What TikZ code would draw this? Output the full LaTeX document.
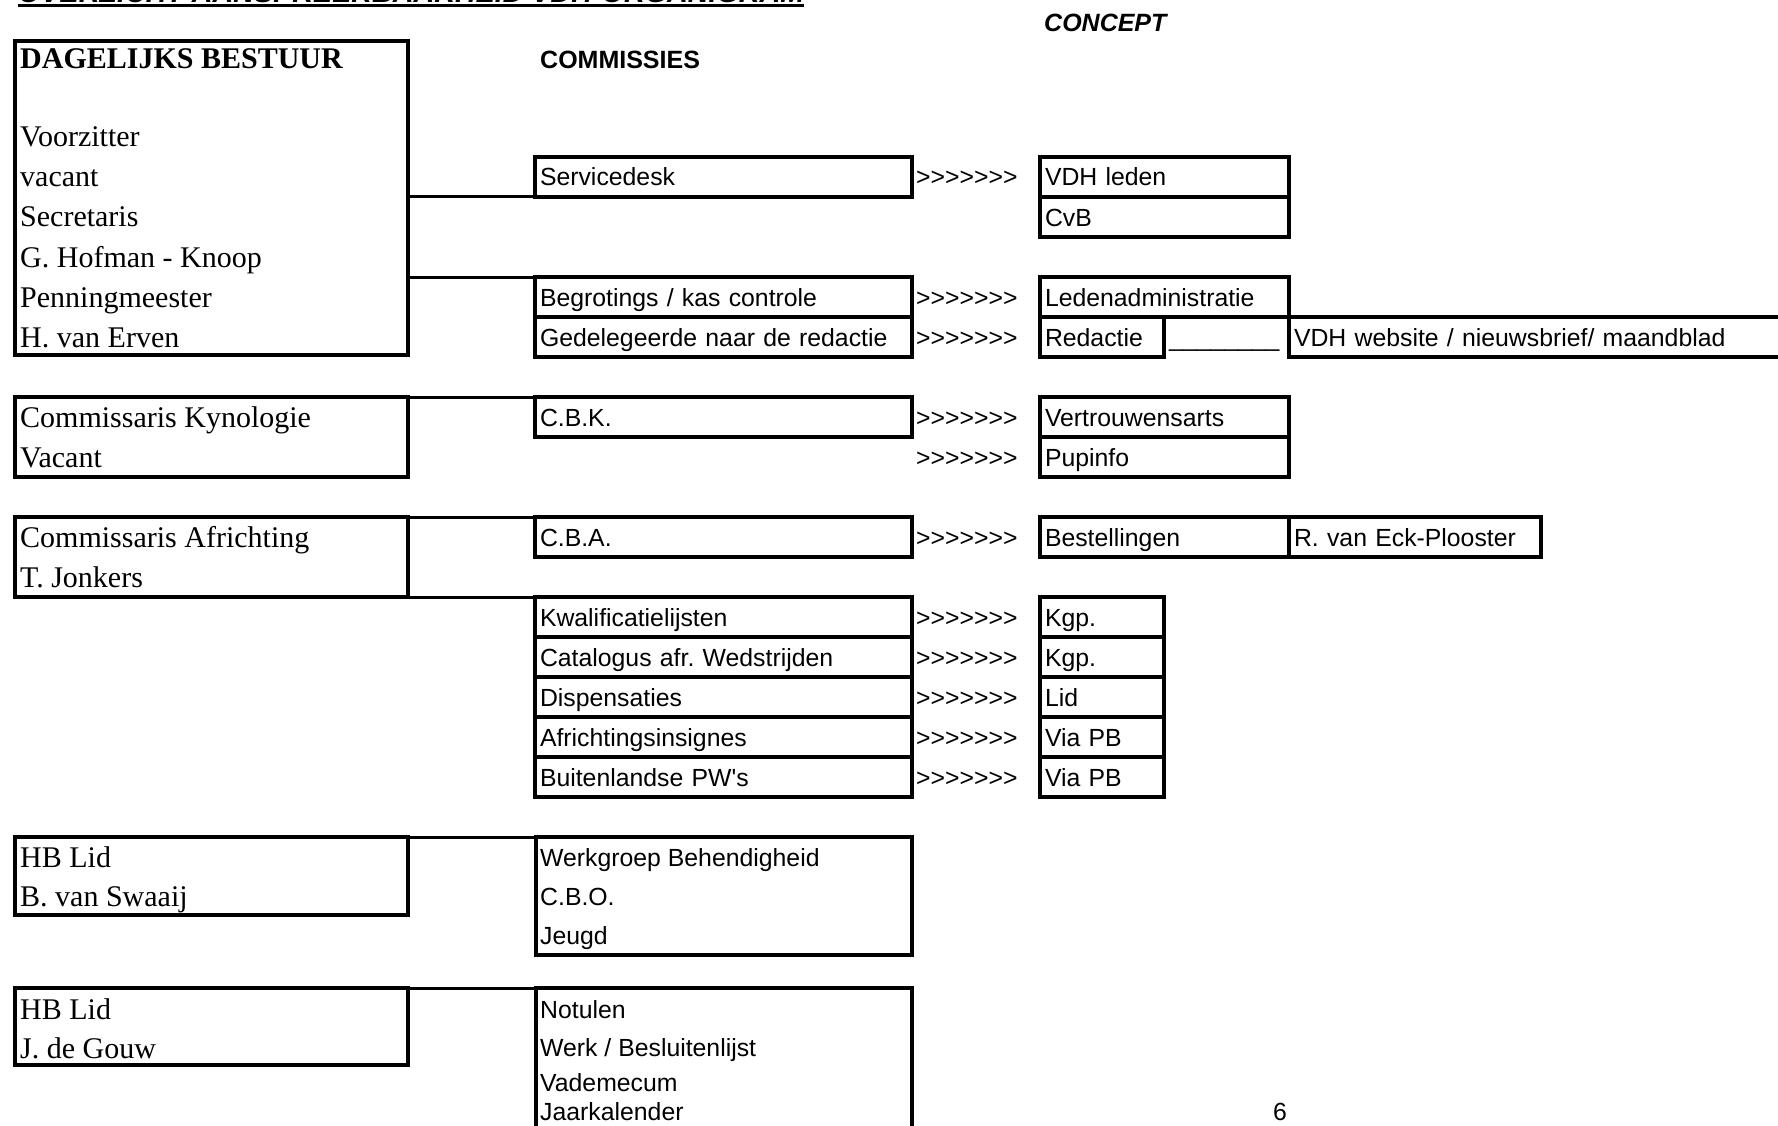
\documentclass[tikz,border=0pt]{standalone}
\usepackage{fontspec}
\setmainfont{Liberation Serif}
\setsansfont{Liberation Sans}[Ligatures=TeXOff]
\usepackage{tikz}

\begin{document}
\frenchspacing
\begin{tikzpicture}[x=1pt, y=-1pt,
    box/.style={draw, line width=4pt, anchor=north west, inner sep=0pt, outer sep=0pt},
    leftbox/.style={box, minimum width=393pt},
    cell/.style={box, inner xsep=5pt, minimum height=40pt, text height=18pt, text depth=0pt,
                 align=left, font=\sffamily\fontsize{24.8}{30}\selectfont},
    midcell/.style={cell, text width=367pt},
    rcell/.style={cell, text width=239pt},
    kcell/.style={cell, text width=114pt},
    webcell/.style={cell, text width=501pt},
    eckcell/.style={cell, text width=242pt},
    person/.style={anchor=base west, inner sep=0pt, font=\rmfamily\fontsize{30}{36}\selectfont},
    entry/.style={anchor=base west, inner sep=0pt, font=\sffamily\fontsize{24.8}{30}\selectfont},
    link/.style={line width=3pt}]
                \useasboundingbox (0,0) rectangle (1778,1126);
                \fill[white] (0,0) rectangle (1778,1126);
                \clip (0,0) rectangle (1778,1126);

                % Title
                \node[anchor=base west, inner sep=0pt, font=\sffamily\bfseries\itshape\fontsize{28.7}{34}\selectfont] (title) at (18,2.8) {OVERZICHT AANSPREEKBAARHEID VDH-ORGANIGRAM};
                \draw[line width=3.5pt] ([yshift=-2.5pt]title.base west) -- ([yshift=-2.5pt]title.base east);
                \node[entry, font=\sffamily\bfseries\itshape\fontsize{25}{30}\selectfont] (concept) at (1044,31.5) {CONCEPT};
                \node[entry, font=\sffamily\bfseries\fontsize{25}{30}\selectfont] (comm) at (540,69) {COMMISSIES};

                % Dagelijks bestuur
                \node[leftbox, minimum height=314pt] (db) at (15,41) {};
                \node[person, font=\rmfamily\bfseries\fontsize{30}{36}\selectfont] (dbtitle) at (20,69) {DAGELIJKS BESTUUR};
                \node[person] (voorz) at (20,147) {Voorzitter};
                \node[person] (vac) at (20,187) {vacant};
                \node[person] (secr) at (20,227) {Secretaris};
                \node[person] (hofman) at (20,267) {G. Hofman - Knoop};
                \node[person] (penn) at (20,307) {Penningmeester};
                \node[person] (erven) at (20,347) {H. van Erven};

                % Commissarissen en HB leden
                \node[leftbox, minimum height=80pt] (kyn) at (15,397) {};
                \node[person] (kyntxt) at (20,427) {Commissaris Kynologie};
                \node[person] (kynvac) at (20,467) {Vacant};
                \node[leftbox, minimum height=80pt] (afr) at (15,517) {};
                \node[person] (afrtxt) at (20,547) {Commissaris Africhting};
                \node[person] (jonkers) at (20,587) {T. Jonkers};
                \node[leftbox, minimum height=78pt] (hb1) at (15,837) {};
                \node[person] (hbone) at (20,867) {HB Lid};
                \node[person] (swaaij) at (20,906) {B. van Swaaij};
                \node[leftbox, minimum height=77pt] (hb2) at (15,988) {};
                \node[person] (hbtwo) at (20,1019) {HB Lid};
                \node[person] (gouw) at (20,1058) {J. de Gouw};

                % Commissies
                \node[midcell] (srv) at (535,157) {Servicedesk};
                \node[midcell] (beg) at (535,277) {Begrotings / kas controle};
                \node[midcell] (ged) at (535,317) {Gedelegeerde naar de redactie};
                \node[midcell] (cbk) at (535,397) {C.B.K.};
                \node[midcell] (cba) at (535,517) {C.B.A.};
                \node[midcell] (kwal) at (535,597) {Kwalificatielijsten};
                \node[midcell] (cat) at (535,637) {Catalogus afr. Wedstrijden};
                \node[midcell] (disp) at (535,677) {Dispensaties};
                \node[midcell] (ains) at (535,717) {Africhtingsinsignes};
                \node[midcell] (bpw) at (535,757) {Buitenlandse PW's};

                \node[box, minimum width=376pt, minimum height=118pt] (wbh) at (536,837) {};
                \node[entry] (wbhtxt) at (540,866) {Werkgroep Behendigheid};
                \node[entry] (cbo) at (540,905) {C.B.O.};
                \node[entry] (jeugd) at (540,944) {Jeugd};
                \node[box, minimum width=376pt, minimum height=170pt] (notu) at (536,988) {};
                \node[entry] (notutxt) at (540,1018) {Notulen};
                \node[entry] (besl) at (540,1056) {Werk / Besluitenlijst};
                \node[entry] (vade) at (540,1091) {Vademecum};
                \node[entry] (jaark) at (540,1120) {Jaarkalender};

                % Doorverwijzingen
                \foreach \y in {186,306,346,426,466,546,626,666,706,746,786}
                    \node[entry] (arr\y) at (916,\y) {>>>>>>>};

                \node[rcell] (vdhl) at (1040,157) {VDH leden};
                \node[rcell] (cvb) at (1040,197) {CvB};
                \node[rcell] (ladm) at (1040,277) {Ledenadministratie};
                \node[kcell] (red) at (1040,317) {Redactie};
                \node[entry] (redline) at (1169,346) {\_\_\_\_\_\_\_\_};
                \node[webcell] (web) at (1289,317) {VDH website / nieuwsbrief/ maandblad};
                \node[rcell] (vtrw) at (1040,397) {Vertrouwensarts};
                \node[rcell] (pup) at (1040,437) {Pupinfo};
                \node[rcell] (best) at (1040,517) {Bestellingen};
                \node[eckcell] (eck) at (1289,517) {R. van Eck-Plooster};
                \node[kcell] (kgpa) at (1040,597) {Kgp.};
                \node[kcell] (kgpb) at (1040,637) {Kgp.};
                \node[kcell] (lid) at (1040,677) {Lid};
                \node[kcell] (viaa) at (1040,717) {Via PB};
                \node[kcell] (viab) at (1040,757) {Via PB};

                \node[entry] (pnum) at (1273,1120) {6};

                % Connections
                \draw[link] (db.east |- srv.south west) -- (srv.south west);
                \draw[link] (db.east |- beg.north west) -- (beg.north west);
                \draw[link] (kyn.north east) -- (cbk.north west);
                \draw[link] (afr.north east) -- (cba.north west);
                \draw[link] (afr.south east) -- (kwal.north west);
                \draw[link] (hb1.north east) -- (wbh.north west);
                \draw[link] (hb2.north east) -- (notu.north west);
            \end{tikzpicture}
\end{document}
